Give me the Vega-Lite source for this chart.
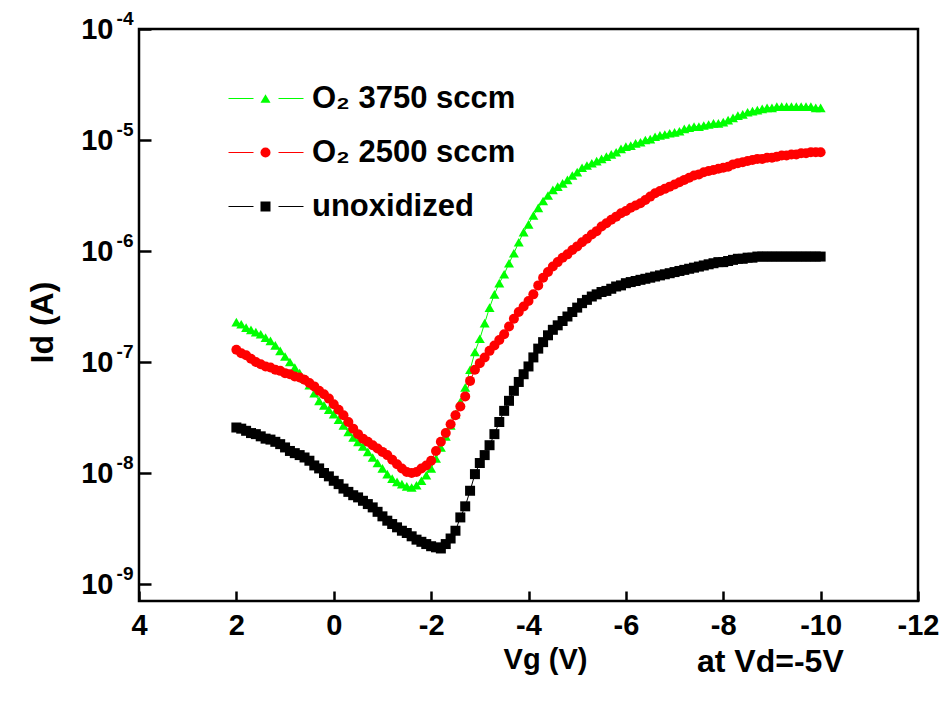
{
  "$schema": "https://vega.github.io/schema/vega-lite/v6.json",
  "width": 779,
  "height": 572,
  "autosize": {"type": "none"},
  "padding": {"left": 139, "top": 29, "right": 25, "bottom": 101},
  "background": "white",
  "config": {
    "font": "Liberation Sans",
    "view": {"stroke": "black", "strokeWidth": 2.5},
    "axis": {
      "labelFont": "Liberation Sans",
      "labelFontWeight": "bold",
      "labelColor": "black",
      "titleFont": "Liberation Sans",
      "titleFontWeight": "bold",
      "titleColor": "black",
      "grid": false,
      "domain": false,
      "tickColor": "black",
      "tickWidth": 2.5
    },
    "legend": {
      "orient": "none",
      "legendX": 111,
      "legendY": 54,
      "title": null,
      "padding": 0,
      "labelFont": "Liberation Sans",
      "labelFontWeight": "bold",
      "labelFontSize": 31,
      "labelColor": "black",
      "labelLimit": 0,
      "labelOffset": 31,
      "rowPadding": 22,
      "symbolSize": 100
    }
  },
  "title": {
    "text": "at Vd=-5V",
    "orient": "bottom",
    "anchor": "start",
    "frame": "group",
    "font": "Liberation Sans",
    "fontSize": 32,
    "fontWeight": "bold",
    "color": "black",
    "offset": 0,
    "dx": 558,
    "dy": -27
  },
  "data": {
    "values": [
      {"Vg": 2.0, "O2_3750": 2.29e-7, "O2_2500": 1.29e-7, "unoxidized": 2.57e-8},
      {"Vg": 1.9, "O2_3750": 2.19e-7, "O2_2500": 1.20e-7, "unoxidized": 2.51e-8},
      {"Vg": 1.8, "O2_3750": 2.04e-7, "O2_2500": 1.15e-7, "unoxidized": 2.40e-8},
      {"Vg": 1.7, "O2_3750": 1.95e-7, "O2_2500": 1.07e-7, "unoxidized": 2.29e-8},
      {"Vg": 1.6, "O2_3750": 1.86e-7, "O2_2500": 1.00e-7, "unoxidized": 2.24e-8},
      {"Vg": 1.5, "O2_3750": 1.78e-7, "O2_2500": 9.55e-8, "unoxidized": 2.14e-8},
      {"Vg": 1.4, "O2_3750": 1.66e-7, "O2_2500": 9.12e-8, "unoxidized": 2.04e-8},
      {"Vg": 1.3, "O2_3750": 1.55e-7, "O2_2500": 8.91e-8, "unoxidized": 2.00e-8},
      {"Vg": 1.2, "O2_3750": 1.41e-7, "O2_2500": 8.51e-8, "unoxidized": 1.91e-8},
      {"Vg": 1.1, "O2_3750": 1.26e-7, "O2_2500": 8.32e-8, "unoxidized": 1.82e-8},
      {"Vg": 1.0, "O2_3750": 1.12e-7, "O2_2500": 7.94e-8, "unoxidized": 1.70e-8},
      {"Vg": 0.9, "O2_3750": 1.00e-7, "O2_2500": 7.76e-8, "unoxidized": 1.58e-8},
      {"Vg": 0.8, "O2_3750": 8.91e-8, "O2_2500": 7.41e-8, "unoxidized": 1.51e-8},
      {"Vg": 0.7, "O2_3750": 7.94e-8, "O2_2500": 7.24e-8, "unoxidized": 1.45e-8},
      {"Vg": 0.6, "O2_3750": 7.08e-8, "O2_2500": 6.92e-8, "unoxidized": 1.38e-8},
      {"Vg": 0.5, "O2_3750": 6.17e-8, "O2_2500": 6.46e-8, "unoxidized": 1.29e-8},
      {"Vg": 0.4, "O2_3750": 5.25e-8, "O2_2500": 6.03e-8, "unoxidized": 1.17e-8},
      {"Vg": 0.3, "O2_3750": 4.47e-8, "O2_2500": 5.50e-8, "unoxidized": 1.10e-8},
      {"Vg": 0.2, "O2_3750": 4.07e-8, "O2_2500": 5.13e-8, "unoxidized": 1.00e-8},
      {"Vg": 0.1, "O2_3750": 3.72e-8, "O2_2500": 4.68e-8, "unoxidized": 9.33e-9},
      {"Vg": 0.0, "O2_3750": 3.39e-8, "O2_2500": 4.17e-8, "unoxidized": 8.51e-9},
      {"Vg": -0.1, "O2_3750": 3.02e-8, "O2_2500": 3.72e-8, "unoxidized": 7.94e-9},
      {"Vg": -0.2, "O2_3750": 2.69e-8, "O2_2500": 3.31e-8, "unoxidized": 7.24e-9},
      {"Vg": -0.3, "O2_3750": 2.34e-8, "O2_2500": 2.88e-8, "unoxidized": 6.76e-9},
      {"Vg": -0.4, "O2_3750": 2.09e-8, "O2_2500": 2.51e-8, "unoxidized": 6.31e-9},
      {"Vg": -0.5, "O2_3750": 1.91e-8, "O2_2500": 2.24e-8, "unoxidized": 6.03e-9},
      {"Vg": -0.6, "O2_3750": 1.74e-8, "O2_2500": 2.04e-8, "unoxidized": 5.62e-9},
      {"Vg": -0.7, "O2_3750": 1.55e-8, "O2_2500": 1.91e-8, "unoxidized": 5.25e-9},
      {"Vg": -0.8, "O2_3750": 1.38e-8, "O2_2500": 1.78e-8, "unoxidized": 4.90e-9},
      {"Vg": -0.9, "O2_3750": 1.23e-8, "O2_2500": 1.66e-8, "unoxidized": 4.47e-9},
      {"Vg": -1.0, "O2_3750": 1.10e-8, "O2_2500": 1.55e-8, "unoxidized": 4.07e-9},
      {"Vg": -1.1, "O2_3750": 9.77e-9, "O2_2500": 1.45e-8, "unoxidized": 3.72e-9},
      {"Vg": -1.2, "O2_3750": 8.91e-9, "O2_2500": 1.32e-8, "unoxidized": 3.47e-9},
      {"Vg": -1.3, "O2_3750": 8.32e-9, "O2_2500": 1.20e-8, "unoxidized": 3.24e-9},
      {"Vg": -1.4, "O2_3750": 7.94e-9, "O2_2500": 1.10e-8, "unoxidized": 3.02e-9},
      {"Vg": -1.5, "O2_3750": 7.59e-9, "O2_2500": 1.02e-8, "unoxidized": 2.88e-9},
      {"Vg": -1.6, "O2_3750": 7.41e-9, "O2_2500": 1.00e-8, "unoxidized": 2.69e-9},
      {"Vg": -1.7, "O2_3750": 7.76e-9, "O2_2500": 1.02e-8, "unoxidized": 2.51e-9},
      {"Vg": -1.8, "O2_3750": 8.51e-9, "O2_2500": 1.10e-8, "unoxidized": 2.40e-9},
      {"Vg": -1.9, "O2_3750": 9.55e-9, "O2_2500": 1.17e-8, "unoxidized": 2.29e-9},
      {"Vg": -2.0, "O2_3750": 1.10e-8, "O2_2500": 1.29e-8, "unoxidized": 2.19e-9},
      {"Vg": -2.1, "O2_3750": 1.35e-8, "O2_2500": 1.58e-8, "unoxidized": 2.14e-9},
      {"Vg": -2.2, "O2_3750": 1.70e-8, "O2_2500": 1.91e-8, "unoxidized": 2.09e-9},
      {"Vg": -2.3, "O2_3750": 2.14e-8, "O2_2500": 2.29e-8, "unoxidized": 2.29e-9},
      {"Vg": -2.4, "O2_3750": 2.69e-8, "O2_2500": 2.75e-8, "unoxidized": 2.57e-9},
      {"Vg": -2.5, "O2_3750": 3.39e-8, "O2_2500": 3.31e-8, "unoxidized": 3.02e-9},
      {"Vg": -2.6, "O2_3750": 4.37e-8, "O2_2500": 3.98e-8, "unoxidized": 3.98e-9},
      {"Vg": -2.7, "O2_3750": 5.89e-8, "O2_2500": 4.90e-8, "unoxidized": 5.01e-9},
      {"Vg": -2.8, "O2_3750": 8.51e-8, "O2_2500": 6.76e-8, "unoxidized": 6.92e-9},
      {"Vg": -2.9, "O2_3750": 1.23e-7, "O2_2500": 8.51e-8, "unoxidized": 9.77e-9},
      {"Vg": -3.0, "O2_3750": 1.62e-7, "O2_2500": 9.77e-8, "unoxidized": 1.23e-8},
      {"Vg": -3.1, "O2_3750": 2.24e-7, "O2_2500": 1.10e-7, "unoxidized": 1.45e-8},
      {"Vg": -3.2, "O2_3750": 3.09e-7, "O2_2500": 1.26e-7, "unoxidized": 1.78e-8},
      {"Vg": -3.3, "O2_3750": 4.07e-7, "O2_2500": 1.41e-7, "unoxidized": 2.24e-8},
      {"Vg": -3.4, "O2_3750": 5.13e-7, "O2_2500": 1.58e-7, "unoxidized": 2.88e-8},
      {"Vg": -3.5, "O2_3750": 6.17e-7, "O2_2500": 1.78e-7, "unoxidized": 3.63e-8},
      {"Vg": -3.6, "O2_3750": 7.76e-7, "O2_2500": 2.09e-7, "unoxidized": 4.47e-8},
      {"Vg": -3.7, "O2_3750": 9.55e-7, "O2_2500": 2.45e-7, "unoxidized": 5.50e-8},
      {"Vg": -3.8, "O2_3750": 1.20e-6, "O2_2500": 2.82e-7, "unoxidized": 6.61e-8},
      {"Vg": -3.9, "O2_3750": 1.48e-6, "O2_2500": 3.16e-7, "unoxidized": 7.76e-8},
      {"Vg": -4.0, "O2_3750": 1.74e-6, "O2_2500": 3.55e-7, "unoxidized": 9.12e-8},
      {"Vg": -4.1, "O2_3750": 2.09e-6, "O2_2500": 4.07e-7, "unoxidized": 1.10e-7},
      {"Vg": -4.2, "O2_3750": 2.45e-6, "O2_2500": 4.90e-7, "unoxidized": 1.32e-7},
      {"Vg": -4.3, "O2_3750": 2.82e-6, "O2_2500": 5.75e-7, "unoxidized": 1.51e-7},
      {"Vg": -4.4, "O2_3750": 3.16e-6, "O2_2500": 6.46e-7, "unoxidized": 1.74e-7},
      {"Vg": -4.5, "O2_3750": 3.55e-6, "O2_2500": 7.24e-7, "unoxidized": 1.95e-7},
      {"Vg": -4.6, "O2_3750": 3.80e-6, "O2_2500": 7.94e-7, "unoxidized": 2.14e-7},
      {"Vg": -4.7, "O2_3750": 4.07e-6, "O2_2500": 8.71e-7, "unoxidized": 2.34e-7},
      {"Vg": -4.8, "O2_3750": 4.37e-6, "O2_2500": 9.33e-7, "unoxidized": 2.57e-7},
      {"Vg": -4.9, "O2_3750": 4.79e-6, "O2_2500": 1.02e-6, "unoxidized": 2.82e-7},
      {"Vg": -5.0, "O2_3750": 5.13e-6, "O2_2500": 1.10e-6, "unoxidized": 3.09e-7},
      {"Vg": -5.1, "O2_3750": 5.62e-6, "O2_2500": 1.20e-6, "unoxidized": 3.39e-7},
      {"Vg": -5.2, "O2_3750": 5.89e-6, "O2_2500": 1.29e-6, "unoxidized": 3.63e-7},
      {"Vg": -5.3, "O2_3750": 6.17e-6, "O2_2500": 1.41e-6, "unoxidized": 3.89e-7},
      {"Vg": -5.4, "O2_3750": 6.46e-6, "O2_2500": 1.51e-6, "unoxidized": 4.07e-7},
      {"Vg": -5.5, "O2_3750": 6.76e-6, "O2_2500": 1.66e-6, "unoxidized": 4.27e-7},
      {"Vg": -5.6, "O2_3750": 7.08e-6, "O2_2500": 1.78e-6, "unoxidized": 4.37e-7},
      {"Vg": -5.7, "O2_3750": 7.41e-6, "O2_2500": 1.91e-6, "unoxidized": 4.57e-7},
      {"Vg": -5.8, "O2_3750": 7.76e-6, "O2_2500": 2.04e-6, "unoxidized": 4.79e-7},
      {"Vg": -5.9, "O2_3750": 8.32e-6, "O2_2500": 2.19e-6, "unoxidized": 4.90e-7},
      {"Vg": -6.0, "O2_3750": 8.71e-6, "O2_2500": 2.29e-6, "unoxidized": 5.13e-7},
      {"Vg": -6.1, "O2_3750": 8.91e-6, "O2_2500": 2.45e-6, "unoxidized": 5.25e-7},
      {"Vg": -6.2, "O2_3750": 9.33e-6, "O2_2500": 2.57e-6, "unoxidized": 5.37e-7},
      {"Vg": -6.3, "O2_3750": 9.55e-6, "O2_2500": 2.69e-6, "unoxidized": 5.50e-7},
      {"Vg": -6.4, "O2_3750": 1.00e-5, "O2_2500": 2.88e-6, "unoxidized": 5.62e-7},
      {"Vg": -6.5, "O2_3750": 1.02e-5, "O2_2500": 3.09e-6, "unoxidized": 5.75e-7},
      {"Vg": -6.6, "O2_3750": 1.07e-5, "O2_2500": 3.31e-6, "unoxidized": 5.89e-7},
      {"Vg": -6.7, "O2_3750": 1.10e-5, "O2_2500": 3.47e-6, "unoxidized": 6.03e-7},
      {"Vg": -6.8, "O2_3750": 1.12e-5, "O2_2500": 3.63e-6, "unoxidized": 6.17e-7},
      {"Vg": -6.9, "O2_3750": 1.15e-5, "O2_2500": 3.80e-6, "unoxidized": 6.31e-7},
      {"Vg": -7.0, "O2_3750": 1.17e-5, "O2_2500": 3.98e-6, "unoxidized": 6.46e-7},
      {"Vg": -7.1, "O2_3750": 1.20e-5, "O2_2500": 4.17e-6, "unoxidized": 6.61e-7},
      {"Vg": -7.2, "O2_3750": 1.26e-5, "O2_2500": 4.37e-6, "unoxidized": 6.76e-7},
      {"Vg": -7.3, "O2_3750": 1.29e-5, "O2_2500": 4.57e-6, "unoxidized": 6.92e-7},
      {"Vg": -7.4, "O2_3750": 1.32e-5, "O2_2500": 4.79e-6, "unoxidized": 7.08e-7},
      {"Vg": -7.5, "O2_3750": 1.32e-5, "O2_2500": 4.90e-6, "unoxidized": 7.24e-7},
      {"Vg": -7.6, "O2_3750": 1.35e-5, "O2_2500": 5.13e-6, "unoxidized": 7.41e-7},
      {"Vg": -7.7, "O2_3750": 1.38e-5, "O2_2500": 5.25e-6, "unoxidized": 7.59e-7},
      {"Vg": -7.8, "O2_3750": 1.41e-5, "O2_2500": 5.37e-6, "unoxidized": 7.76e-7},
      {"Vg": -7.9, "O2_3750": 1.41e-5, "O2_2500": 5.50e-6, "unoxidized": 7.94e-7},
      {"Vg": -8.0, "O2_3750": 1.45e-5, "O2_2500": 5.62e-6, "unoxidized": 7.94e-7},
      {"Vg": -8.1, "O2_3750": 1.51e-5, "O2_2500": 5.75e-6, "unoxidized": 8.13e-7},
      {"Vg": -8.2, "O2_3750": 1.58e-5, "O2_2500": 6.03e-6, "unoxidized": 8.32e-7},
      {"Vg": -8.3, "O2_3750": 1.66e-5, "O2_2500": 6.17e-6, "unoxidized": 8.51e-7},
      {"Vg": -8.4, "O2_3750": 1.70e-5, "O2_2500": 6.31e-6, "unoxidized": 8.51e-7},
      {"Vg": -8.5, "O2_3750": 1.78e-5, "O2_2500": 6.46e-6, "unoxidized": 8.71e-7},
      {"Vg": -8.6, "O2_3750": 1.82e-5, "O2_2500": 6.61e-6, "unoxidized": 8.71e-7},
      {"Vg": -8.7, "O2_3750": 1.86e-5, "O2_2500": 6.76e-6, "unoxidized": 8.91e-7},
      {"Vg": -8.8, "O2_3750": 1.91e-5, "O2_2500": 6.76e-6, "unoxidized": 8.91e-7},
      {"Vg": -8.9, "O2_3750": 1.95e-5, "O2_2500": 6.92e-6, "unoxidized": 8.91e-7},
      {"Vg": -9.0, "O2_3750": 1.95e-5, "O2_2500": 6.92e-6, "unoxidized": 8.91e-7},
      {"Vg": -9.1, "O2_3750": 2.00e-5, "O2_2500": 7.08e-6, "unoxidized": 8.91e-7},
      {"Vg": -9.2, "O2_3750": 2.00e-5, "O2_2500": 7.24e-6, "unoxidized": 8.91e-7},
      {"Vg": -9.3, "O2_3750": 2.00e-5, "O2_2500": 7.24e-6, "unoxidized": 8.91e-7},
      {"Vg": -9.4, "O2_3750": 2.00e-5, "O2_2500": 7.41e-6, "unoxidized": 8.91e-7},
      {"Vg": -9.5, "O2_3750": 2.00e-5, "O2_2500": 7.41e-6, "unoxidized": 8.91e-7},
      {"Vg": -9.6, "O2_3750": 2.00e-5, "O2_2500": 7.59e-6, "unoxidized": 8.91e-7},
      {"Vg": -9.7, "O2_3750": 2.00e-5, "O2_2500": 7.59e-6, "unoxidized": 8.91e-7},
      {"Vg": -9.8, "O2_3750": 2.00e-5, "O2_2500": 7.76e-6, "unoxidized": 8.91e-7},
      {"Vg": -9.9, "O2_3750": 1.95e-5, "O2_2500": 7.76e-6, "unoxidized": 8.91e-7},
      {"Vg": -10.0, "O2_3750": 1.95e-5, "O2_2500": 7.76e-6, "unoxidized": 8.91e-7}
    ]
  },
  "transform": [
    {"fold": ["O2_3750", "O2_2500", "unoxidized"], "as": ["film", "Id"]}
  ],
  "encoding": {
    "x": {
      "field": "Vg",
      "type": "quantitative",
      "scale": {"domain": [-12, 4], "reverse": true, "nice": false, "zero": false},
      "axis": {
        "values": [4, 2, 0, -2, -4, -6, -8, -10, -12],
        "labelExpr": "'' + datum.value",
        "labelFontSize": 29,
        "labelPadding": 20,
        "labelFlush": false,
        "tickSize": -10,
        "title": "Vg (V)",
        "titleFontSize": 29,
        "titleX": 406,
        "titleY": 67,
        "titleAlign": "center",
        "titleBaseline": "alphabetic"
      }
    }
  },
  "layer": [
    {
      "mark": {"type": "line", "strokeWidth": 1},
      "encoding": {
        "y": {
          "field": "Id",
          "type": "quantitative",
          "scale": {"type": "log", "domain": [7.03e-10, 1e-4], "nice": false},
          "axis": {
            "values": [1e-9, 1e-8, 1e-7, 1e-6, 1e-5, 1e-4],
            "labelExpr": "'10'",
            "labelFontSize": 29,
            "labelPadding": 38,
            "labelFlush": false,
            "tickSize": -12,
            "title": "Id (A)",
            "titleFontSize": 32,
            "titleAngle": -90,
            "titleX": -97,
            "titleY": 293,
            "titleAlign": "center",
            "titleBaseline": "middle"
          }
        },
        "stroke": {
          "field": "film",
          "type": "nominal",
          "scale": {"domain": ["unoxidized", "O2_2500", "O2_3750"], "range": ["#000000", "#ff0000", "#00ff00"]},
          "legend": {
            "values": ["O2_3750", "O2_2500", "unoxidized"],
            "symbolType": "M-7.4,0H-2.4M2.6,0H7.6",
            "symbolStrokeWidth": 1,
            "labelOpacity": 0,
            "labelExpr": "datum.value === 'O2_3750' ? 'O₂ 3750 sccm' : datum.value === 'O2_2500' ? 'O₂ 2500 sccm' : 'unoxidized'"
          }
        }
      }
    },
    {
      "mark": {"type": "point", "filled": true, "opacity": 1},
      "encoding": {
        "y": {
          "field": "Id",
          "type": "quantitative",
          "axis": {
            "orient": "left",
            "values": [1e-9, 1e-8, 1e-7, 1e-6, 1e-5, 1e-4],
            "labelExpr": "'-' + (-round(log(datum.value) / LN10))",
            "labelFontSize": 19,
            "labelPadding": 6,
            "labelOffset": -11,
            "labelFlush": false,
            "ticks": false,
            "tickSize": 0,
            "title": null
          }
        },
        "color": {
          "field": "film",
          "type": "nominal",
          "scale": {"domain": ["O2_3750", "O2_2500", "unoxidized"], "range": ["#00ff00", "#ff0000", "#000000"]},
          "legend": {
            "labelExpr": "datum.value === 'O2_3750' ? 'O₂ 3750 sccm' : datum.value === 'O2_2500' ? 'O₂ 2500 sccm' : 'unoxidized'"
          }
        },
        "shape": {
          "field": "film",
          "type": "nominal",
          "scale": {"domain": ["O2_3750", "O2_2500", "unoxidized"], "range": ["triangle-up", "circle", "square"]},
          "legend": null
        },
        "size": {
          "field": "film",
          "type": "nominal",
          "scale": {"domain": ["O2_3750", "O2_2500", "unoxidized"], "range": [100, 100, 60]},
          "legend": null
        },
        "order": {"field": "film", "sort": "descending"}
      }
    }
  ],
  "resolve": {"axis": {"y": "independent"}}
}
